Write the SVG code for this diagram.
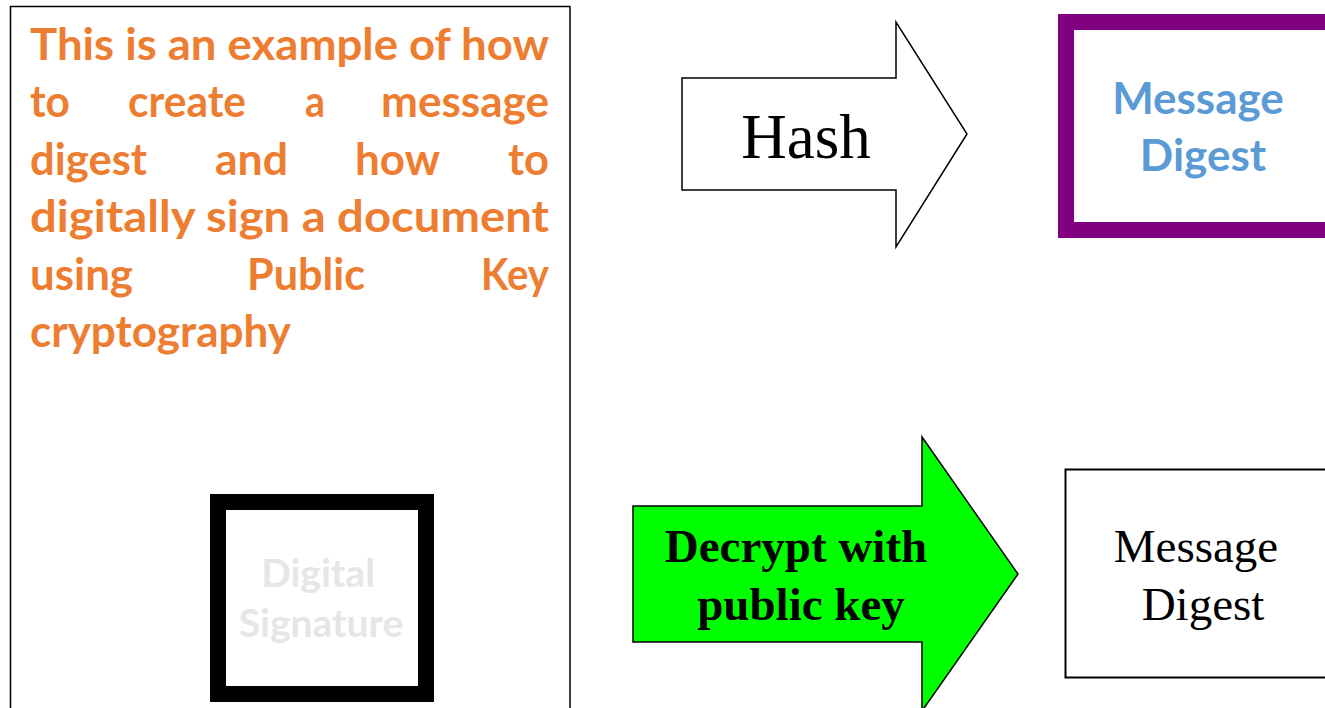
<svg xmlns="http://www.w3.org/2000/svg" width="1325" height="708" viewBox="0 0 1325 708">
  <style>
    .sans { font-family: Lato, "Open Sans", "Liberation Sans", sans-serif; font-weight: 700; }
    .serif { font-family: "Liberation Serif", "Times New Roman", serif; }
    .intro { fill: #ED7D31; font-size: 43px; }
    .ghost { fill: #E6E6E6; font-size: 39px; text-anchor: middle; }
    .blue { fill: #5B9BD5; font-size: 44px; text-anchor: middle; }
    .dark { fill: #000; text-anchor: middle; }
  </style>
  <rect width="1325" height="708" fill="#fff"/>

  <!-- Description panel -->
  <g id="intro-panel">
    <rect x="10.5" y="6.5" width="559.5" height="720" fill="#fff" stroke="#000" stroke-width="1.5"/>
    <g class="sans intro">
      <text x="30" y="60" textLength="519" lengthAdjust="spacingAndGlyphs">This is an example of how</text>
      <text x="30" y="117" textLength="40" lengthAdjust="spacingAndGlyphs">to</text>
      <text x="128" y="117" textLength="118" lengthAdjust="spacingAndGlyphs">create</text>
      <text x="305" y="117" textLength="20" lengthAdjust="spacingAndGlyphs">a</text>
      <text x="381" y="117" textLength="168" lengthAdjust="spacingAndGlyphs">message</text>
      <text x="30" y="175" textLength="117" lengthAdjust="spacingAndGlyphs">digest</text>
      <text x="215" y="175" textLength="73" lengthAdjust="spacingAndGlyphs">and</text>
      <text x="355" y="175" textLength="85" lengthAdjust="spacingAndGlyphs">how</text>
      <text x="508" y="175" textLength="41" lengthAdjust="spacingAndGlyphs">to</text>
      <text x="30" y="232" textLength="519" lengthAdjust="spacingAndGlyphs">digitally sign a document</text>
      <text x="30" y="290" textLength="103" lengthAdjust="spacingAndGlyphs">using</text>
      <text x="247" y="290" textLength="118" lengthAdjust="spacingAndGlyphs">Public</text>
      <text x="481" y="290" textLength="68" lengthAdjust="spacingAndGlyphs">Key</text>
      <text x="30" y="347" textLength="261" lengthAdjust="spacingAndGlyphs">cryptography</text>
    </g>
  </g>

  <!-- Digital signature box -->
  <g id="digital-signature">
    <rect x="218" y="502" width="208" height="192" fill="#fff" stroke="#000" stroke-width="16"/>
    <text class="sans ghost" x="318" y="587">Digital</text>
    <text class="sans ghost" x="321" y="637">Signature</text>
  </g>

  <!-- Hash arrow -->
  <g id="hash-arrow">
    <path d="M682,78 H896 V22 L967,134 L896,247 V190 H682 Z" fill="#fff" stroke="#000" stroke-width="1.5" stroke-linejoin="miter"/>
    <text class="serif dark" x="806" y="158" font-size="63">Hash</text>
  </g>

  <!-- Hashed digest -->
  <g id="digest-hashed">
    <rect x="1066" y="22" width="290" height="208" fill="#fff" stroke="#800080" stroke-width="16"/>
    <text class="sans blue" x="1198" y="114">Message</text>
    <text class="sans blue" x="1203" y="171">Digest</text>
  </g>

  <!-- Decrypt arrow -->
  <g id="decrypt-arrow">
    <path d="M633,506 H922 V437 L1018,574 L922,711 V642 H633 Z" fill="#00FF00" stroke="#000" stroke-width="1.5"/>
    <text class="serif dark" x="796" y="562" font-size="47" font-weight="700">Decrypt with</text>
    <text class="serif dark" x="801" y="620" font-size="47" font-weight="700">public key</text>
  </g>

  <!-- Decrypted digest -->
  <g id="digest-decrypted">
    <rect x="1065.5" y="469.5" width="300" height="208" fill="#fff" stroke="#000" stroke-width="2"/>
    <text class="serif dark" x="1196" y="562" font-size="47">Message</text>
    <text class="serif dark" x="1203" y="620" font-size="47">Digest</text>
  </g>
</svg>
